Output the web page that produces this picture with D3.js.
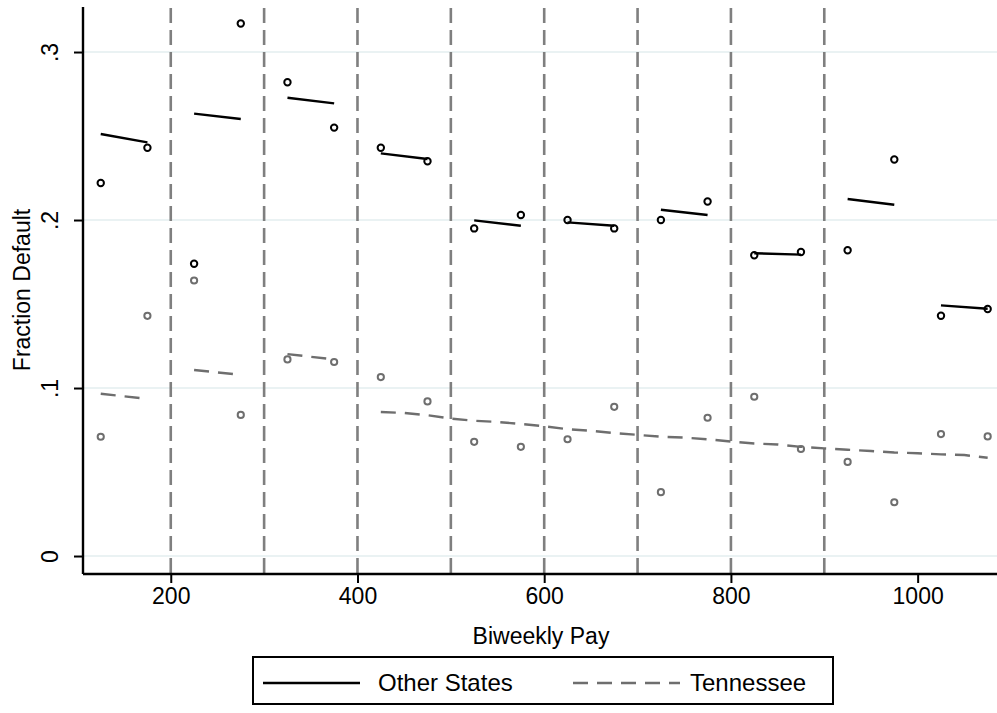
<!DOCTYPE html>
<html><head><meta charset="utf-8">
<script src="https://cdn.jsdelivr.net/npm/d3@7"></script>
<style>body{margin:0;background:#fff}svg{display:block}text{font-family:"Liberation Sans",Arial,Helvetica,sans-serif}</style>
</head><body><svg id="c" width="997" height="713"></svg>
<script>
// ---- data ----
const binX = [125,175,225,275,325,375,425,475,525,575,625,675,725,775,825,875,925,975,1025,1075];
const otherPts = [0.222,0.243,0.174,0.317,0.282,0.255,0.243,0.235,0.195,0.203,0.200,0.195,0.200,0.211,0.179,0.181,0.182,0.236,0.143,0.147];
const tennPts  = [0.071,0.143,0.164,0.084,0.117,0.1155,0.1065,0.092,0.068,0.065,0.0695,0.0888,0.038,0.0823,0.0948,0.0637,0.056,0.032,0.0726,0.0712];
// Other States fitted segments per 100-bin
const otherFitX = [[125,175],[225,275],[325,375],[425,475],[525,575],[625,675],[725,775],[825,875],[925,975],[1025,1075]];
const otherFitY = [[0.2512,0.2462],[0.2633,0.2601],[0.2728,0.2694],[0.2397,0.2363],[0.1998,0.1966],[0.1986,0.1966],[0.2061,0.2030],[0.1802,0.1794],[0.2125,0.2091],[0.1492,0.1472]];
// Tennessee fitted segments (first three bins) and smooth line from 425
const tennFitX = [[125,175],[225,275],[325,375]];
const tennFitY = [[0.0966,0.0935],[0.1107,0.1079],[0.1202,0.1170]];
const tennLineX = [425,450,475,500,525,550,575,600,625,650,675,700,725,750,775,800,825,850,875,900,925,950,975,1000,1025,1050,1075];
const tennLineY = [0.0857,0.0852,0.0838,0.0818,0.0805,0.0798,0.0786,0.0772,0.0755,0.0746,0.0732,0.0721,0.0710,0.0705,0.0695,0.0681,0.0670,0.0664,0.0650,0.0641,0.0633,0.0625,0.0616,0.0612,0.0605,0.0601,0.0585];
const cutoffs = [200,300,400,500,600,700,800,900];
const xTicks = [200,400,600,800,1000];
const yTicks = [0,0.1,0.2,0.3];
const yTickLabels = ["0",".1",".2",".3"];
const seriesNames = ["Other States","Tennessee"];

// ---- chart ----
const svg = d3.select("#c");
const x = d3.scaleLinear().domain([106,1085]).range([83,997]);
const y = d3.scaleLinear().domain([-0.0107,0.3268]).range([574,7]);
const BLACK="#000", GRAY="#6e6e6e", REF="#7f7f7f", GRID="#eaf2f3";
const FS=23;

// gridlines
svg.append("g").selectAll("line").data(yTicks).join("line")
  .attr("x1",83).attr("x2",997).attr("y1",d=>y(d)).attr("y2",d=>y(d))
  .attr("stroke",GRID).attr("stroke-width",2);

// reference cutoff lines
svg.append("g").selectAll("line").data(cutoffs).join("line")
  .attr("x1",d=>x(d)).attr("x2",d=>x(d)).attr("y1",8).attr("y2",574)
  .attr("stroke",REF).attr("stroke-width",2.6).attr("stroke-dasharray","15,7");

// Tennessee lines
const line = d3.line().x(d=>x(d[0])).y(d=>y(d[1]));
const tg = svg.append("g").attr("fill","none").attr("stroke",GRAY).attr("stroke-width",2.4).attr("stroke-dasharray","15,9");
tennFitX.forEach((xs,i)=>{
  tg.append("path").attr("d",line([[xs[0],tennFitY[i][0]],[xs[1],tennFitY[i][1]]]));
});
tg.append("path").attr("d",line(tennLineX.map((v,i)=>[v,tennLineY[i]])));

// Other States lines
const og = svg.append("g").attr("fill","none").attr("stroke",BLACK).attr("stroke-width",2.4);
otherFitX.forEach((xs,i)=>{
  og.append("path").attr("d",line([[xs[0],otherFitY[i][0]],[xs[1],otherFitY[i][1]]]));
});

// points
svg.append("g").selectAll("circle").data(binX).join("circle")
  .attr("cx",d=>x(d)).attr("cy",(d,i)=>y(tennPts[i])).attr("r",3.1)
  .attr("fill","none").attr("stroke",GRAY).attr("stroke-width",2);
svg.append("g").selectAll("circle").data(binX).join("circle")
  .attr("cx",d=>x(d)).attr("cy",(d,i)=>y(otherPts[i])).attr("r",3.2)
  .attr("fill","none").attr("stroke",BLACK).attr("stroke-width",2);

// axes
const xa = svg.append("g").attr("transform","translate(0,574)")
  .call(d3.axisBottom(x).tickValues(xTicks).tickSize(9).tickFormat(d3.format("d")));
xa.select(".domain").attr("d","M83,0H997").attr("stroke","#000").attr("stroke-width",2.4);
xa.selectAll(".tick line").attr("stroke","#000").attr("stroke-width",2);
xa.selectAll(".tick text").attr("font-size",FS).attr("font-family","Liberation Sans, Arial, sans-serif").attr("fill","#000").attr("dy","0.9em").attr("y",9);

const ya = svg.append("g").attr("transform","translate(83,0)")
  .call(d3.axisLeft(y).tickValues(yTicks).tickSize(9).tickFormat((d,i)=>yTickLabels[i]));
ya.select(".domain").attr("d","M0,7V574").attr("stroke","#000").attr("stroke-width",2.4);
ya.selectAll(".tick line").attr("stroke","#000").attr("stroke-width",2);
ya.selectAll(".tick text").remove();
ya.selectAll(".tick").append("text")
  .attr("transform","translate(-25,0) rotate(-90)")
  .attr("text-anchor","middle").attr("font-size",FS).attr("fill","#000")
  .text((d,i)=>yTickLabels[i]);

// axis titles
svg.append("text").attr("x",541).attr("y",644).attr("text-anchor","middle")
  .attr("font-size",FS).attr("fill","#000").text("Biweekly Pay");
svg.append("text").attr("transform","translate(30,290) rotate(-90)").attr("text-anchor","middle")
  .attr("font-size",FS).attr("fill","#000").text("Fraction Default");

// legend
const lg = svg.append("g");
lg.append("rect").attr("x",253).attr("y",657).attr("width",580).attr("height",47)
  .attr("fill","#fff").attr("stroke","#000").attr("stroke-width",2);
lg.append("line").attr("x1",263).attr("x2",360).attr("y1",683).attr("y2",683)
  .attr("stroke",BLACK).attr("stroke-width",2.4);
lg.append("text").attr("x",378).attr("y",691).attr("font-size",24).attr("fill","#000").text(seriesNames[0]);
lg.append("line").attr("x1",573).attr("x2",680).attr("y1",683).attr("y2",683)
  .attr("stroke",GRAY).attr("stroke-width",2.4).attr("stroke-dasharray","15,9");
lg.append("text").attr("x",690).attr("y",691).attr("font-size",24).attr("fill","#000").text(seriesNames[1]);
</script></body></html>
